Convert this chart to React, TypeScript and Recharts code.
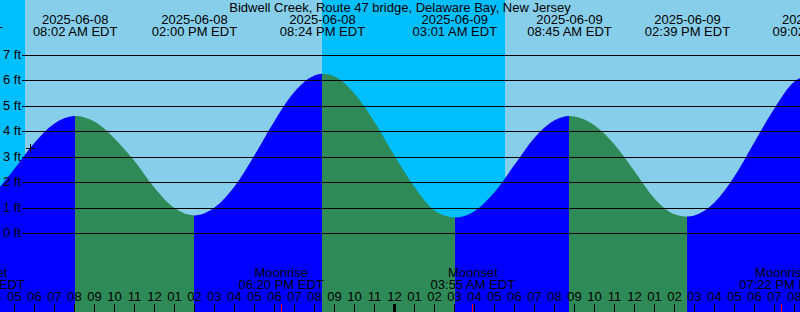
import { ComposedChart, Area, XAxis, YAxis, ReferenceArea, ReferenceDot } from "recharts";

const W = 800;
const H = 312;

// hours counted from 2025-06-08 00:00 EDT
const X_DOMAIN: [number, number] = [4.275, 44.275];
const Y_DOMAIN: [number, number] = [-3.087, 9.183];

// tide height (ft)
const tideHours = [
  2.3, 3, 4, 5, 6, 7, 8.033, 9, 10, 11, 12, 13, 14, 15, 16, 17, 18, 19, 20, 20.4,
  21, 22, 23, 24, 25, 26, 27.017, 28, 29, 30, 31, 32, 32.75, 33, 34, 35, 36, 37,
  38, 38.65, 39, 40, 41, 42, 43, 44, 45.033,
];
const tideFeet = [
  0.7, 0.88, 1.6, 2.55, 3.57, 4.33, 4.62, 4.4, 3.74, 2.85, 1.8, 1.0, 0.71, 1.02,
  1.85, 3.08, 4.42, 5.57, 6.21, 6.28, 6.17, 5.5, 4.39, 3.06, 1.83, 0.9, 0.63, 0.88,
  1.62, 2.7, 3.77, 4.45, 4.62, 4.6, 4.26, 3.5, 2.45, 1.38, 0.76, 0.67, 0.71, 1.22,
  2.25, 3.6, 4.93, 5.98, 6.3,
];

// high / low tides
const eventHours = [2.3, 8.033, 14.0, 20.4, 27.017, 32.75, 38.65, 45.033];
const eventFeet = [0.7, 4.62, 0.71, 6.28, 0.63, 4.62, 0.67, 6.3];
const eventDates = [
  "2025-06-08", "2025-06-08", "2025-06-08", "2025-06-08",
  "2025-06-09", "2025-06-09", "2025-06-09", "2025-06-09",
];
const eventTimes = [
  "02:18 AM EDT", "08:02 AM EDT", "02:00 PM EDT", "08:24 PM EDT",
  "03:01 AM EDT", "08:45 AM EDT", "02:39 PM EDT", "09:02 PM EDT",
];

const moonHours = [3.4, 18.333, 27.917, 43.367];
const moonNames = ["Moonset", "Moonrise", "Moonset", "Moonrise"];
const moonTimes = ["03:24 AM EDT", "06:20 PM EDT", "03:55 AM EDT", "07:22 PM EDT"];

// night: before sunrise / after sunset
const nightStarts = [4.275, 20.375];
const nightEnds = [5.525, 29.525];

const footTicks = [0, 1, 2, 3, 4, 5, 6, 7];
const hourTicks = [
  4, 5, 6, 7, 8, 9, 10, 11, 12, 13, 14, 15, 16, 17, 18, 19, 20, 21, 22, 23, 24,
  25, 26, 27, 28, 29, 30, 31, 32, 33, 34, 35, 36, 37, 38, 39, 40, 41, 42, 43, 44,
];

const markHour = 5.77;
const markFeet = 3.35;

const DAY = "#87ceeb";
const NIGHT = "#00bfff";
const RISING = "#0000ff";
const FALLING = "#2e8b57";
const FONT = "'Liberation Sans', Arial, sans-serif";

const data = tideHours.map((t, i) => ({ t, ft: tideFeet[i] }));

const t0 = tideHours[0];
const tN = tideHours[tideHours.length - 1];
const stops = eventHours.slice(0, -1).flatMap((t, i) => {
  const color = eventFeet[i + 1] > eventFeet[i] ? RISING : FALLING;
  const a = (t - t0) / (tN - t0);
  const b = (eventHours[i + 1] - t0) / (tN - t0);
  return [
    { offset: a, color },
    { offset: b, color },
  ];
});

const hourLabel = (t: number) => {
  const h = t % 12 === 0 ? 12 : t % 12;
  return String(h).padStart(2, "0");
};

function FootTick(props: any) {
  const yy = Math.floor(props.y) + 0.5;
  return (
    <g>
      <text x={3} y={yy + 3} fontSize={13} fontFamily={FONT} fill="#000">
        {props.payload.value} ft
      </text>
      <line x1={22} x2={W} y1={yy} y2={yy} stroke="#000" strokeWidth={1} />
    </g>
  );
}

function HourTick(props: any) {
  const t = props.payload.value;
  const xx = Math.floor(props.x) + 0.5;
  return (
    <g>
      <text x={props.x} y={301} textAnchor="middle" fontSize={13} fontFamily={FONT} fill="#000">
        {hourLabel(t)}
      </text>
      <line x1={xx} x2={xx} y1={304} y2={H} stroke="#000" strokeWidth={t % 24 === 0 ? 3 : 1} />
    </g>
  );
}

function EventTick(props: any) {
  const i = eventHours.indexOf(props.payload.value);
  return (
    <g fontSize={13} fontFamily={FONT} fill="#000">
      <text x={props.x} y={24} textAnchor="middle">{eventDates[i]}</text>
      <text x={props.x} y={36} textAnchor="middle">{eventTimes[i]}</text>
    </g>
  );
}

function MoonTick(props: any) {
  const i = moonHours.indexOf(props.payload.value);
  const xx = Math.floor(props.x) + 0.5;
  return (
    <g fontSize={13} fontFamily={FONT} fill="#000">
      <text x={props.x} y={277} textAnchor="middle">{moonNames[i]}</text>
      <text x={props.x} y={289} textAnchor="middle">{moonTimes[i]}</text>
      <line x1={xx} x2={xx} y1={304} y2={H} stroke="#ff0000" strokeWidth={1} />
    </g>
  );
}

function Plus(props: any) {
  const cx = Math.round(props.cx) + 0.5;
  const cy = Math.floor(props.cy) + 0.5;
  return (
    <g stroke="#000" strokeWidth={1}>
      <line x1={cx - 4.5} x2={cx + 4.5} y1={cy} y2={cy} />
      <line x1={cx} x2={cx} y1={cy - 4.5} y2={cy + 4.5} />
    </g>
  );
}

export default function App() {
  return (
    <div
      style={{
        position: "absolute",
        left: 0,
        top: 0,
        width: W,
        height: H,
        background: DAY,
        overflow: "hidden",
      }}
    >
      <ComposedChart width={W} height={H} data={data} margin={{ top: 0, right: 0, bottom: 0, left: 0 }}>
        <defs>
          <linearGradient id="tideFill" x1="0" y1="0" x2="1" y2="0">
            {stops.map((s, i) => (
              <stop key={i} offset={s.offset} stopColor={s.color} />
            ))}
          </linearGradient>
        </defs>
        {nightStarts.map((s, i) => (
          <ReferenceArea
            key={i}
            x1={s}
            x2={nightEnds[i]}
            fill={NIGHT}
            fillOpacity={1}
            stroke="none"
          />
        ))}
        <Area
          type="monotone"
          dataKey="ft"
          stroke="none"
          fill="url(#tideFill)"
          fillOpacity={1}
          baseValue="dataMin"
          dot={false}
          activeDot={false}
          isAnimationActive={false}
        />
        <YAxis
          type="number"
          domain={Y_DOMAIN}
          allowDataOverflow
          mirror
          width={1}
          ticks={footTicks}
          interval={0}
          axisLine={false}
          tickLine={false}
          tick={(p: any) => <FootTick {...p} />}
        />
        <XAxis
          dataKey="t"
          type="number"
          domain={X_DOMAIN}
          allowDataOverflow
          mirror
          height={1}
          ticks={hourTicks}
          interval={0}
          axisLine={false}
          tickLine={false}
          tick={(p: any) => <HourTick {...p} />}
        />
        <XAxis
          xAxisId="moon"
          dataKey="t"
          type="number"
          domain={X_DOMAIN}
          allowDataOverflow
          mirror
          height={1}
          ticks={moonHours}
          interval={0}
          axisLine={false}
          tickLine={false}
          tick={(p: any) => <MoonTick {...p} />}
        />
        <XAxis
          xAxisId="events"
          dataKey="t"
          orientation="top"
          type="number"
          domain={X_DOMAIN}
          allowDataOverflow
          mirror
          height={1}
          ticks={eventHours}
          interval={0}
          axisLine={false}
          tickLine={false}
          tick={(p: any) => <EventTick {...p} />}
        />
        <ReferenceDot x={markHour} y={markFeet} shape={(p: any) => <Plus {...p} />} />
      </ComposedChart>
      <div
        style={{
          position: "absolute",
          left: 0,
          top: 1,
          width: W,
          textAlign: "center",
          fontFamily: FONT,
          fontSize: 13,
          lineHeight: "13px",
          color: "#000",
          pointerEvents: "none",
        }}
      >
        Bidwell Creek, Route 47 bridge, Delaware Bay, New Jersey
      </div>
    </div>
  );
}
